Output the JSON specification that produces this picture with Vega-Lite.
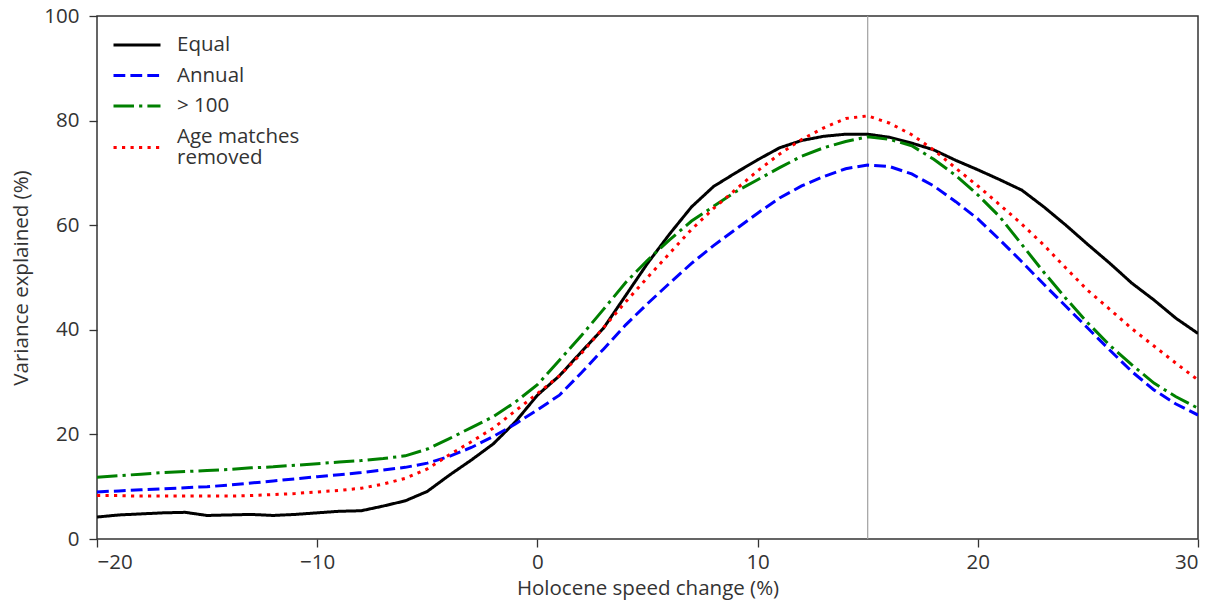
{
  "$schema": "https://vega.github.io/schema/vega-lite/v6.json",
  "autosize": {"type": "none"},
  "width": 1101,
  "height": 523,
  "padding": {"left": 97, "top": 16, "right": 18, "bottom": 70},
  "background": "white",
  "config": {
    "font": "Open Sans",
    "view": {"stroke": "#333333", "strokeWidth": 1.5},
    "axis": {
      "grid": false,
      "domain": false,
      "tickColor": "#333333",
      "tickWidth": 1.3,
      "tickSize": 8,
      "labelFont": "Open Sans",
      "labelFontSize": 20.5,
      "labelColor": "#333333",
      "titleFont": "Open Sans",
      "titleFontSize": 20.5,
      "titleFontWeight": "normal",
      "titleColor": "#333333"
    },
    "legend": {
      "labelFont": "Open Sans",
      "labelFontSize": 20.5,
      "labelColor": "#333333"
    }
  },
  "data": {
    "values": [
      {"x": -20, "s": "Equal", "v": 4.2}, {"x": -19, "s": "Equal", "v": 4.6}, {"x": -18, "s": "Equal", "v": 4.8}, {"x": -17, "s": "Equal", "v": 5.0}, {"x": -16, "s": "Equal", "v": 5.1},
      {"x": -15, "s": "Equal", "v": 4.5}, {"x": -14, "s": "Equal", "v": 4.6}, {"x": -13, "s": "Equal", "v": 4.7}, {"x": -12, "s": "Equal", "v": 4.5}, {"x": -11, "s": "Equal", "v": 4.7},
      {"x": -10, "s": "Equal", "v": 5.0}, {"x": -9, "s": "Equal", "v": 5.3}, {"x": -8, "s": "Equal", "v": 5.4}, {"x": -7, "s": "Equal", "v": 6.3}, {"x": -6, "s": "Equal", "v": 7.3},
      {"x": -5, "s": "Equal", "v": 9.1}, {"x": -4, "s": "Equal", "v": 12.2}, {"x": -3, "s": "Equal", "v": 15.1}, {"x": -2, "s": "Equal", "v": 18.2}, {"x": -1, "s": "Equal", "v": 22.4},
      {"x": 0, "s": "Equal", "v": 27.5}, {"x": 1, "s": "Equal", "v": 31.2}, {"x": 2, "s": "Equal", "v": 35.8}, {"x": 3, "s": "Equal", "v": 40.3}, {"x": 4, "s": "Equal", "v": 46.5},
      {"x": 5, "s": "Equal", "v": 52.7}, {"x": 6, "s": "Equal", "v": 58.3}, {"x": 7, "s": "Equal", "v": 63.5}, {"x": 8, "s": "Equal", "v": 67.4}, {"x": 9, "s": "Equal", "v": 70.0},
      {"x": 10, "s": "Equal", "v": 72.5}, {"x": 11, "s": "Equal", "v": 74.8}, {"x": 12, "s": "Equal", "v": 76.2}, {"x": 13, "s": "Equal", "v": 77.0}, {"x": 14, "s": "Equal", "v": 77.4},
      {"x": 15, "s": "Equal", "v": 77.4}, {"x": 16, "s": "Equal", "v": 76.8}, {"x": 17, "s": "Equal", "v": 75.7}, {"x": 18, "s": "Equal", "v": 74.4}, {"x": 19, "s": "Equal", "v": 72.4},
      {"x": 20, "s": "Equal", "v": 70.6}, {"x": 21, "s": "Equal", "v": 68.7}, {"x": 22, "s": "Equal", "v": 66.7}, {"x": 23, "s": "Equal", "v": 63.5}, {"x": 24, "s": "Equal", "v": 60.0},
      {"x": 25, "s": "Equal", "v": 56.3}, {"x": 26, "s": "Equal", "v": 52.7}, {"x": 27, "s": "Equal", "v": 48.9}, {"x": 28, "s": "Equal", "v": 45.7}, {"x": 29, "s": "Equal", "v": 42.2},
      {"x": 30, "s": "Equal", "v": 39.3},

      {"x": -20, "s": "Annual", "v": 9.0}, {"x": -19, "s": "Annual", "v": 9.2}, {"x": -18, "s": "Annual", "v": 9.4}, {"x": -17, "s": "Annual", "v": 9.6}, {"x": -16, "s": "Annual", "v": 9.8},
      {"x": -15, "s": "Annual", "v": 10.0}, {"x": -14, "s": "Annual", "v": 10.3}, {"x": -13, "s": "Annual", "v": 10.7}, {"x": -12, "s": "Annual", "v": 11.1}, {"x": -11, "s": "Annual", "v": 11.5},
      {"x": -10, "s": "Annual", "v": 11.9}, {"x": -9, "s": "Annual", "v": 12.3}, {"x": -8, "s": "Annual", "v": 12.7}, {"x": -7, "s": "Annual", "v": 13.2}, {"x": -6, "s": "Annual", "v": 13.7},
      {"x": -5, "s": "Annual", "v": 14.5}, {"x": -4, "s": "Annual", "v": 15.8}, {"x": -3, "s": "Annual", "v": 17.5}, {"x": -2, "s": "Annual", "v": 19.6}, {"x": -1, "s": "Annual", "v": 22.0},
      {"x": 0, "s": "Annual", "v": 24.7}, {"x": 1, "s": "Annual", "v": 27.5}, {"x": 2, "s": "Annual", "v": 31.8}, {"x": 3, "s": "Annual", "v": 36.3}, {"x": 4, "s": "Annual", "v": 40.9},
      {"x": 5, "s": "Annual", "v": 45.0}, {"x": 6, "s": "Annual", "v": 48.9}, {"x": 7, "s": "Annual", "v": 52.7}, {"x": 8, "s": "Annual", "v": 56.1}, {"x": 9, "s": "Annual", "v": 59.2},
      {"x": 10, "s": "Annual", "v": 62.3}, {"x": 11, "s": "Annual", "v": 65.2}, {"x": 12, "s": "Annual", "v": 67.5}, {"x": 13, "s": "Annual", "v": 69.3}, {"x": 14, "s": "Annual", "v": 70.8},
      {"x": 15, "s": "Annual", "v": 71.5}, {"x": 16, "s": "Annual", "v": 71.2}, {"x": 17, "s": "Annual", "v": 69.8}, {"x": 18, "s": "Annual", "v": 67.5}, {"x": 19, "s": "Annual", "v": 64.5},
      {"x": 20, "s": "Annual", "v": 61.2}, {"x": 21, "s": "Annual", "v": 57.2}, {"x": 22, "s": "Annual", "v": 53.0}, {"x": 23, "s": "Annual", "v": 48.7}, {"x": 24, "s": "Annual", "v": 44.5},
      {"x": 25, "s": "Annual", "v": 40.3}, {"x": 26, "s": "Annual", "v": 36.1}, {"x": 27, "s": "Annual", "v": 32.0}, {"x": 28, "s": "Annual", "v": 28.5}, {"x": 29, "s": "Annual", "v": 25.8},
      {"x": 30, "s": "Annual", "v": 23.7},

      {"x": -20, "s": "> 100", "v": 11.8}, {"x": -19, "s": "> 100", "v": 12.1}, {"x": -18, "s": "> 100", "v": 12.4}, {"x": -17, "s": "> 100", "v": 12.7}, {"x": -16, "s": "> 100", "v": 12.9},
      {"x": -15, "s": "> 100", "v": 13.1}, {"x": -14, "s": "> 100", "v": 13.3}, {"x": -13, "s": "> 100", "v": 13.6}, {"x": -12, "s": "> 100", "v": 13.8}, {"x": -11, "s": "> 100", "v": 14.1},
      {"x": -10, "s": "> 100", "v": 14.4}, {"x": -9, "s": "> 100", "v": 14.7}, {"x": -8, "s": "> 100", "v": 15.0}, {"x": -7, "s": "> 100", "v": 15.4}, {"x": -6, "s": "> 100", "v": 15.9},
      {"x": -5, "s": "> 100", "v": 17.2}, {"x": -4, "s": "> 100", "v": 19.2}, {"x": -3, "s": "> 100", "v": 21.3}, {"x": -2, "s": "> 100", "v": 23.4}, {"x": -1, "s": "> 100", "v": 26.2},
      {"x": 0, "s": "> 100", "v": 29.5}, {"x": 1, "s": "> 100", "v": 34.2}, {"x": 2, "s": "> 100", "v": 38.9}, {"x": 3, "s": "> 100", "v": 43.9}, {"x": 4, "s": "> 100", "v": 49.0},
      {"x": 5, "s": "> 100", "v": 53.3}, {"x": 6, "s": "> 100", "v": 57.2}, {"x": 7, "s": "> 100", "v": 60.8}, {"x": 8, "s": "> 100", "v": 63.6}, {"x": 9, "s": "> 100", "v": 66.4},
      {"x": 10, "s": "> 100", "v": 68.7}, {"x": 11, "s": "> 100", "v": 71.0}, {"x": 12, "s": "> 100", "v": 73.2}, {"x": 13, "s": "> 100", "v": 74.8}, {"x": 14, "s": "> 100", "v": 76.0},
      {"x": 15, "s": "> 100", "v": 76.9}, {"x": 16, "s": "> 100", "v": 76.4}, {"x": 17, "s": "> 100", "v": 75.2}, {"x": 18, "s": "> 100", "v": 72.6}, {"x": 19, "s": "> 100", "v": 69.5},
      {"x": 20, "s": "> 100", "v": 65.8}, {"x": 21, "s": "> 100", "v": 61.6}, {"x": 22, "s": "> 100", "v": 56.3}, {"x": 23, "s": "> 100", "v": 51.0}, {"x": 24, "s": "> 100", "v": 46.0},
      {"x": 25, "s": "> 100", "v": 41.3}, {"x": 26, "s": "> 100", "v": 37.0}, {"x": 27, "s": "> 100", "v": 33.3}, {"x": 28, "s": "> 100", "v": 29.8}, {"x": 29, "s": "> 100", "v": 27.2},
      {"x": 30, "s": "> 100", "v": 25.0},

      {"x": -20, "s": "Age matches removed", "v": 8.3}, {"x": -19, "s": "Age matches removed", "v": 8.3}, {"x": -18, "s": "Age matches removed", "v": 8.2}, {"x": -17, "s": "Age matches removed", "v": 8.2}, {"x": -16, "s": "Age matches removed", "v": 8.2},
      {"x": -15, "s": "Age matches removed", "v": 8.2}, {"x": -14, "s": "Age matches removed", "v": 8.2}, {"x": -13, "s": "Age matches removed", "v": 8.3}, {"x": -12, "s": "Age matches removed", "v": 8.5}, {"x": -11, "s": "Age matches removed", "v": 8.7},
      {"x": -10, "s": "Age matches removed", "v": 9.0}, {"x": -9, "s": "Age matches removed", "v": 9.3}, {"x": -8, "s": "Age matches removed", "v": 9.7}, {"x": -7, "s": "Age matches removed", "v": 10.5}, {"x": -6, "s": "Age matches removed", "v": 11.6},
      {"x": -5, "s": "Age matches removed", "v": 13.4}, {"x": -4, "s": "Age matches removed", "v": 16.1}, {"x": -3, "s": "Age matches removed", "v": 18.6}, {"x": -2, "s": "Age matches removed", "v": 21.2}, {"x": -1, "s": "Age matches removed", "v": 24.5},
      {"x": 0, "s": "Age matches removed", "v": 27.8}, {"x": 1, "s": "Age matches removed", "v": 31.2}, {"x": 2, "s": "Age matches removed", "v": 35.5}, {"x": 3, "s": "Age matches removed", "v": 40.4}, {"x": 4, "s": "Age matches removed", "v": 45.3},
      {"x": 5, "s": "Age matches removed", "v": 50.0}, {"x": 6, "s": "Age matches removed", "v": 54.6}, {"x": 7, "s": "Age matches removed", "v": 59.2}, {"x": 8, "s": "Age matches removed", "v": 63.2}, {"x": 9, "s": "Age matches removed", "v": 66.8},
      {"x": 10, "s": "Age matches removed", "v": 70.4}, {"x": 11, "s": "Age matches removed", "v": 73.6}, {"x": 12, "s": "Age matches removed", "v": 76.4}, {"x": 13, "s": "Age matches removed", "v": 78.6}, {"x": 14, "s": "Age matches removed", "v": 80.4},
      {"x": 15, "s": "Age matches removed", "v": 80.9}, {"x": 16, "s": "Age matches removed", "v": 79.5}, {"x": 17, "s": "Age matches removed", "v": 77.3}, {"x": 18, "s": "Age matches removed", "v": 74.4}, {"x": 19, "s": "Age matches removed", "v": 70.9},
      {"x": 20, "s": "Age matches removed", "v": 67.5}, {"x": 21, "s": "Age matches removed", "v": 63.9}, {"x": 22, "s": "Age matches removed", "v": 60.2}, {"x": 23, "s": "Age matches removed", "v": 56.2}, {"x": 24, "s": "Age matches removed", "v": 51.8},
      {"x": 25, "s": "Age matches removed", "v": 47.5}, {"x": 26, "s": "Age matches removed", "v": 43.9}, {"x": 27, "s": "Age matches removed", "v": 40.2}, {"x": 28, "s": "Age matches removed", "v": 36.9}, {"x": 29, "s": "Age matches removed", "v": 33.6},
      {"x": 30, "s": "Age matches removed", "v": 30.4}
    ]
  },
  "layer": [
    {
      "data": {"values": [{"xv": 15}]},
      "mark": {"type": "rule", "color": "#a0a0a0", "strokeWidth": 1.2},
      "encoding": {"x": {"field": "xv", "type": "quantitative"}}
    },
    {
      "mark": {"type": "line", "strokeWidth": 3, "strokeCap": "butt", "clip": true},
      "encoding": {
        "x": {
          "field": "x", "type": "quantitative",
          "scale": {"domain": [-20, 30], "nice": false, "zero": false},
          "axis": {"values": [-20, -10, 0, 10, 20, 30], "title": "Holocene speed change (%)", "labelPadding": 5, "titlePadding": 6}
        },
        "y": {
          "field": "v", "type": "quantitative",
          "scale": {"domain": [0, 100], "nice": false},
          "axis": {"values": [0, 20, 40, 60, 80, 100], "title": "Variance explained (%)", "labelPadding": 10, "titlePadding": 12}
        },
        "color": {
          "field": "s", "type": "nominal",
          "scale": {"domain": ["Equal", "Annual", "> 100", "Age matches removed"], "range": ["#000000", "#0000ff", "#008000", "#ff0000"]},
          "legend": {
            "title": null,
            "orient": "none",
            "legendX": 15,
            "legendY": 14,
            "padding": 0,
            "symbolType": "stroke",
            "symbolSize": 2209,
            "symbolStrokeWidth": 3,
            "clipHeight": 30,
            "rowPadding": 0.5,
            "labelOffset": 15,
            "labelExpr": "datum.label == 'Age matches removed' ? ['Age matches', 'removed'] : datum.label",
            "encode": {
              "labels": {"update": {"lineHeight": {"value": 21}, "dy": {"signal": "datum.value == 'Age matches removed' ? 0 : 0"}}},
              "symbols": {"update": {"y": {"signal": "datum.value == 'Age matches removed' ? 26 : 15"}}}
            }
          }
        },
        "strokeDash": {
          "field": "s", "type": "nominal",
          "scale": {"domain": ["Equal", "Annual", "> 100", "Age matches removed"], "range": [[1, 0], [11.8, 5.1], [20.5, 5.1, 3.2, 5.1], [3.2, 5.3]]},
          "legend": {
            "title": null,
            "orient": "none",
            "legendX": 15,
            "legendY": 14,
            "padding": 0,
            "symbolType": "stroke",
            "symbolSize": 2209,
            "symbolStrokeWidth": 3,
            "clipHeight": 30,
            "rowPadding": 0.5,
            "labelOffset": 15,
            "labelExpr": "datum.label == 'Age matches removed' ? ['Age matches', 'removed'] : datum.label",
            "encode": {
              "labels": {"update": {"lineHeight": {"value": 21}, "dy": {"signal": "datum.value == 'Age matches removed' ? 0 : 0"}}},
              "symbols": {"update": {"y": {"signal": "datum.value == 'Age matches removed' ? 26 : 15"}}}
            }
          }
        }
      }
    }
  ]
}
